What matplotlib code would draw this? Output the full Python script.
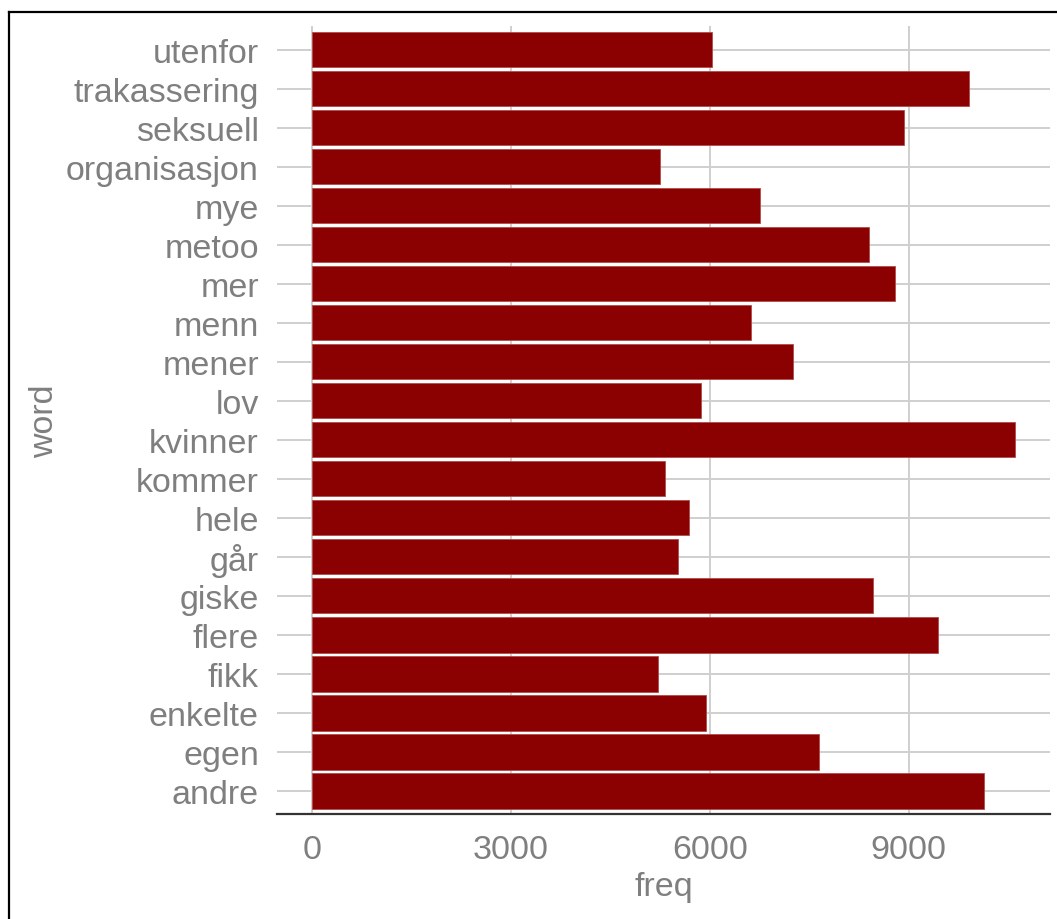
import matplotlib
matplotlib.use('Agg')
import matplotlib.pyplot as plt
from matplotlib.lines import Line2D

# 字体设置 (ggplot 风格的 Arial 替代)
plt.rcParams['font.family'] = ['Liberation Sans', 'DejaVu Sans']

# --- 数据 ---
words = ['andre', 'egen', 'enkelte', 'fikk', 'flere', 'giske', 'går', 'hele',
         'kommer', 'kvinner', 'lov', 'mener', 'menn', 'mer', 'metoo', 'mye',
         'organisasjon', 'seksuell', 'trakassering', 'utenfor']
freq = [10140, 7650, 5940, 5215, 9450, 8470, 5515, 5680,
        5320, 10605, 5875, 7255, 6625, 8795, 8405, 6760,
        5250, 8930, 9915, 6040]
xticks = [0, 3000, 6000, 9000]

text_grey = '#7f7f7f'
grid_grey = '#cfcfcf'

fig = plt.figure(figsize=(10.57, 9.2), dpi=100)
W, H = 1057, 920
left, right, top, bottom = 277, 1050, 27.4, 815.4
ax = fig.add_axes([left / W, 1 - bottom / H, (right - left) / W, (bottom - top) / H])

ax.barh(words, freq, height=0.9, color='#8B0000', edgecolor='#b54a4a',
        linewidth=0.6, zorder=3)

fmax = max(freq)
ax.set_xlim(-0.05 * fmax, 1.05 * fmax)
ax.set_ylim(-0.6, len(words) - 0.4)
ax.set_xticks(xticks)
ax.set_xticklabels([str(t) for t in xticks])

# 网格线
ax.grid(True, color=grid_grey, linewidth=1.4, zorder=0)
ax.set_axisbelow(True)

for s in ['top', 'right', 'left']:
    ax.spines[s].set_visible(False)
ax.spines['bottom'].set_color('#333333')
ax.spines['bottom'].set_linewidth(1.6)

ax.tick_params(axis='both', length=0, labelsize=24.5, labelcolor=text_grey)
ax.tick_params(axis='y', pad=13)
ax.tick_params(axis='x', pad=14)

ax.set_xlabel('freq', fontsize=24.5, color=text_grey, va='center')
ax.set_ylabel('word', fontsize=24.5, color=text_grey, va='center')
ax.xaxis.set_label_coords(0.5, (bottom - 888) / (bottom - top))
ax.yaxis.set_label_coords((45 - left) / (right - left), 0.5)

# 外框 (左边与上边)
fig.add_artist(Line2D([9 / W, 9 / W], [0, 1 - 13 / H], transform=fig.transFigure,
                      color='black', linewidth=1.6))
fig.add_artist(Line2D([9 / W, 1], [1 - 13 / H, 1 - 13 / H], transform=fig.transFigure,
                      color='black', linewidth=1.6))

fig.savefig('out.png', dpi=100)
